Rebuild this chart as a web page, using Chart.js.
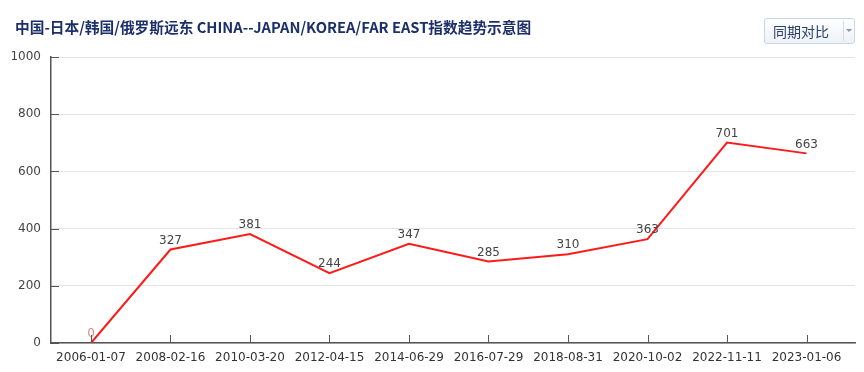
<!DOCTYPE html>
<html>
<head>
<meta charset="utf-8">
<script src="https://cdn.jsdelivr.net/npm/chart.js@4/dist/chart.umd.min.js"></script>
<style>
  html, body { margin: 0; padding: 0; background: #fff; }
  #wrap { position: relative; width: 864px; height: 372px; overflow: hidden; }
  #title {
    position: absolute; left: 15px; top: 16px; line-height: 16px;
    font: bold 14.7px "Noto Sans CJK SC", "DejaVu Sans", sans-serif; color: #1b2f6b;
    white-space: nowrap;
  }
  #btn {
    position: absolute; left: 764px; top: 18px; width: 89px; height: 24px;
    border: 1px solid #c8d6e8; border-radius: 3px;
    background: linear-gradient(#ffffff, #edf2f8);
    font: 14px "Noto Sans CJK SC", sans-serif; color: #2b3f69;
  }
  #btn .txt { position: absolute; left: 8px; top: 3px; line-height: 18px; }
  #btn .sep { position: absolute; left: 78px; top: 2px; width: 1px; height: 20px; background: #d3deec; }
  #btn .arr { position: absolute; left: 81px; top: 10px; width: 0; height: 0;
    border-left: 3px solid transparent; border-right: 3px solid transparent; border-top: 3px solid #8a96a8; }
  canvas { position: absolute; left: 0; top: 0; }
</style>
</head>
<body>
<div id="wrap">
  <canvas id="chart" width="864" height="372"></canvas>
  <div id="title">中国-日本/韩国/俄罗斯远东 CHINA--JAPAN/KOREA/FAR EAST指数趋势示意图</div>
  <div id="btn"><span class="txt">同期对比</span><span class="sep"></span><span class="arr"></span></div>
</div>
<script>
const dates = ['2006-01-07', '2008-02-16', '2010-03-20', '2012-04-15', '2014-06-29',
               '2016-07-29', '2018-08-31', '2020-10-02', '2022-11-11', '2023-01-06'];
const indexValues = [0, 327, 381, 244, 347, 285, 310, 363, 701, 663];
const yTicks = [0, 200, 400, 600, 800, 1000];

const axisColor = '#555';

// short tick marks pointing into the plot, like the original
const innerTicks = {
  id: 'innerTicks',
  afterDraw(chart) {
    const ctx = chart.ctx;
    const area = chart.chartArea;
    const xs = chart.scales.x, ys = chart.scales.y;
    ctx.save();
    ctx.strokeStyle = axisColor;
    ctx.lineWidth = 1;
    ctx.beginPath();
    yTicks.forEach(v => {
      const y = Math.round(ys.getPixelForValue(v)) + 0.5;
      ctx.moveTo(area.left, y);
      ctx.lineTo(area.left + 8, y);
    });
    dates.forEach((d, i) => {
      const x = Math.round(xs.getPixelForValue(i)) + 0.5;
      ctx.moveTo(x, area.bottom);
      ctx.lineTo(x, area.bottom - 8);
    });
    ctx.stroke();
    ctx.restore();
  }
};

const valueLabels = {
  id: 'valueLabels',
  afterDatasetsDraw(chart) {
    const ctx = chart.ctx;
    const meta = chart.getDatasetMeta(0);
    ctx.save();
    ctx.font = '12px "DejaVu Sans"';
    ctx.textAlign = 'center';
    ctx.textBaseline = 'bottom';
    meta.data.forEach((pt, i) => {
      const v = indexValues[i];
      ctx.fillStyle = v === 0 ? '#d98a8a' : '#444';
      ctx.fillText(String(v), pt.x, pt.y - 3);
    });
    ctx.restore();
  }
};

new Chart(document.getElementById('chart'), {
  type: 'line',
  data: {
    datasets: [{
      data: indexValues.map((v, i) => ({ x: i, y: v })),
      borderColor: '#ff1a1a',
      borderWidth: 2,
      pointRadius: 0,
      tension: 0,
      fill: false
    }]
  },
  options: {
    responsive: false,
    animation: false,
    layout: { padding: { top: 57, right: 9, left: 0, bottom: 0 } },
    plugins: { legend: { display: false }, tooltip: { enabled: false }, title: { display: false } },
    scales: {
      x: {
        type: 'linear',
        min: -0.503,
        max: 9.61,
        afterFit(scale) { scale.height = 29; },
        afterBuildTicks(scale) { scale.ticks = dates.map((d, i) => ({ value: i })); },
        grid: { display: false, drawTicks: false },
        border: { display: true, color: axisColor, width: 1.5 },
        ticks: {
          autoSkip: false,
          maxRotation: 0,
          padding: 8,
          color: '#333',
          font: { family: 'DejaVu Sans', size: 12 },
          callback: (v) => dates[v]
        }
      },
      y: {
        min: 0,
        max: 1000,
        afterFit(scale) { scale.width = 51; },
        afterBuildTicks(scale) { scale.ticks = yTicks.map(v => ({ value: v })); },
        grid: { color: '#e4e4e4', lineWidth: 1, drawTicks: false },
        border: { display: true, color: axisColor, width: 1.5 },
        ticks: {
          padding: 10,
          color: '#444',
          font: { family: 'DejaVu Sans', size: 12 },
          callback: (v) => String(v)
        }
      }
    }
  },
  plugins: [innerTicks, valueLabels]
});
</script>
</body>
</html>
